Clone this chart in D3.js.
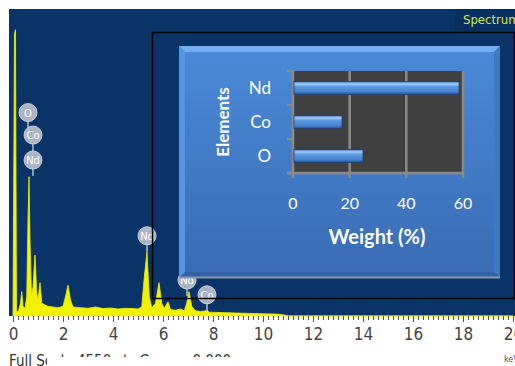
<!DOCTYPE html>
<html>
<head>
<meta charset="utf-8">
<script src="https://cdn.jsdelivr.net/npm/d3@7"></script>
<style>
  body { margin: 0; background: #fff; }
  svg { display: block; }
</style>
</head>
<body>
<div id="chart"></div>
<script>
// EDS spectrum with an inset bar chart of element weights

// inset bar chart data
const elements = ["Nd", "Co", "O"];
const weights = [58.6, 17.3, 24.7];
const weightTicks = [0, 20, 40, 60];

// spectrum axis labels
const keVTicks = [0, 2, 4, 6, 8, 10, 12, 14, 16, 18, 20];

// spectrum (keV, counts)
const specKeV = [0, 0.06, 0.1, 0.14, 0.22, 0.3, 0.35, 0.4, 0.48, 0.55, 0.6, 0.64, 0.68, 0.74, 0.8, 0.88, 0.95, 1.0, 1.08, 1.15,
  1.25, 1.4, 1.6, 1.8, 2.0, 2.1, 2.2, 2.3, 2.4, 2.7, 3.0, 3.3, 3.6, 3.9, 4.2, 4.5, 4.8, 5.0, 5.15, 5.25,
  5.36, 5.45, 5.55, 5.7, 5.84, 5.95, 6.05, 6.2, 6.3, 6.5, 6.7, 6.85, 6.95, 7.04, 7.15, 7.3, 7.5, 7.7, 7.76, 7.85,
  8.2, 8.6, 9.0, 9.5, 10.0, 10.5, 10.8, 11.0, 20];
const specCts = [0, 4400, 4460, 60, 80, 200, 380, 150, 120, 300, 1500, 2170, 1200, 300, 450, 950, 350, 250, 520, 200,
  180, 150, 140, 130, 150, 300, 480, 250, 140, 130, 120, 140, 115, 125, 110, 120, 115, 110, 140, 600,
  1000, 300, 130, 200, 520, 200, 120, 220, 100, 90, 110, 80, 200, 380, 150, 80, 70, 80, 95, 60,
  55, 50, 45, 40, 35, 30, 20, 0, 0];

// peak markers (element, keV, label height in counts)
const peakNames = ["O", "Co", "Nd", "Nd", "Nd", "Co"];
const peakKeV = [0.6, 0.8, 0.8, 5.36, 6.96, 7.76];
const peakLabelCts = [3170, 2820, 2430, 1250, 560, 330];

const W = 515, H = 366;
const narrow = "'Liberation Sans Narrow', 'DejaVu Sans Condensed', sans-serif";
const calibri = "Lato, 'Open Sans', sans-serif";

const svg = d3.select("#chart").append("svg")
  .attr("width", W).attr("height", H);

const defs = svg.append("defs");

// navy spectrum area
svg.append("rect")
  .attr("x", 9).attr("y", 9)
  .attr("width", W - 9).attr("height", 307)
  .attr("fill", "#0a3468");

// darker box behind the spectrum name
svg.append("rect")
  .attr("x", 455).attr("y", 9)
  .attr("width", 60).attr("height", 22)
  .attr("fill", "#092f60");

const x = d3.scaleLinear().domain([0, 20]).range([13, 513]);
const y = d3.scaleLinear().domain([0, 4550]).range([316, 24]);

// spectrum fill
const spec = specKeV.map((k, i) => ({ k: k, c: specCts[i] }));
svg.append("path")
  .datum(spec)
  .attr("fill", "#f2f200")
  .attr("stroke", "#f2f200")
  .attr("stroke-width", 0.8)
  .attr("d", d3.area()
    .x(d => x(d.k))
    .y0(y(0))
    .y1(d => y(d.c)));

// peak labels with stems
const peaks = peakNames.map((n, i) => ({ n: n, k: peakKeV[i], c: peakLabelCts[i] }));
const pk = svg.append("g");
pk.selectAll("line")
  .data(peaks)
  .enter().append("line")
    .attr("x1", d => x(d.k)).attr("x2", d => x(d.k))
    .attr("y1", d => y(d.c)).attr("y2", d => y(d.c) + 16)
    .attr("stroke", "#b4bfcf")
    .attr("stroke-width", 1.5);
pk.selectAll("circle")
  .data(peaks)
  .enter().append("circle")
    .attr("cx", d => x(d.k))
    .attr("cy", d => y(d.c))
    .attr("r", 9)
    .attr("fill", "#aab5c6")
    .attr("stroke", "#c9d2de")
    .attr("stroke-width", 1);
pk.selectAll("text")
  .data(peaks)
  .enter().append("text")
    .attr("x", d => x(d.k))
    .attr("y", d => y(d.c) + 4)
    .attr("text-anchor", "middle")
    .style("font-family", narrow)
    .style("font-size", "11px")
    .attr("fill", "#fff")
    .text(d => d.n);

// spectrum name
svg.append("text")
  .attr("x", 463).attr("y", 24)
  .style("font-family", narrow)
  .style("font-size", "13px")
  .attr("fill", "#cdec52")
  .text("Spectrum 1");

// black inset frame
svg.append("rect")
  .attr("x", 152.5).attr("y", 32.5)
  .attr("width", 362).attr("height", 266)
  .attr("fill", "none")
  .attr("stroke", "#000")
  .attr("stroke-width", 1.5);

// keV axis
const axisG = svg.append("g").attr("transform", "translate(0,316)");
axisG.call(d3.axisBottom(x).tickValues(d3.range(0, 101).map(i => i / 5)).tickSize(4).tickFormat(""));
axisG.select(".domain").remove();
axisG.selectAll("line").attr("stroke", "#555");
axisG.append("g").call(d3.axisBottom(x).tickValues(keVTicks).tickSize(6).tickFormat(d3.format("d")))
  .call(g => g.select(".domain").remove())
  .call(g => g.selectAll("line").attr("stroke", "#555"))
  .selectAll("text")
    .attr("y", 12)
    .attr("fill", "#444")
    .style("font-family", narrow)
    .style("font-size", "17px");

svg.append("text")
  .attr("x", 504).attr("y", 362)
  .style("font-family", narrow)
  .style("font-size", "9px")
  .attr("fill", "#555")
  .text("keV");

svg.append("text")
  .attr("x", 9).attr("y", 366)
  .style("font-family", narrow)
  .style("font-size", "15px")
  .attr("fill", "#333")
  .text("Full Scale 4550 cts Cursor: 0.000");
svg.append("rect")
  .attr("x", 47).attr("y", 357)
  .attr("width", 230).attr("height", 9)
  .attr("fill", "#fff");

// ---- inset panel ----
const panelGrad = defs.append("linearGradient")
  .attr("id", "panel-grad")
  .attr("x1", "0%").attr("x2", "0%").attr("y1", "0%").attr("y2", "100%");
panelGrad.selectAll("stop")
  .data([{ o: "0%", c: "#4b8ad9" }, { o: "100%", c: "#396bb3" }])
  .enter().append("stop")
    .attr("offset", d => d.o)
    .attr("stop-color", d => d.c);

const pL = 179, pT = 46, pR = 500, pB = 278, bv = 6;
svg.append("rect")
  .attr("x", pL).attr("y", pT)
  .attr("width", pR - pL).attr("height", pB - pT)
  .attr("fill", "url(#panel-grad)");
// bevel edges
svg.append("polygon")
  .attr("points", [[pL, pT], [pR, pT], [pR - bv, pT + bv], [pL + bv, pT + bv]].join(" "))
  .attr("fill", "#72aef0");
svg.append("polygon")
  .attr("points", [[pR, pT], [pR, pB], [pR - bv, pB - bv], [pR - bv, pT + bv]].join(" "))
  .attr("fill", "#3f78c6");
svg.append("polygon")
  .attr("points", [[pL, pB], [pR, pB], [pR - bv, pB - bv], [pL + bv, pB - bv]].join(" "))
  .attr("fill", "#3462a6");
svg.append("polygon")
  .attr("points", [[pL, pT], [pL + bv, pT + bv], [pL + bv, pB - bv], [pL, pB]].join(" "))
  .attr("fill", "#5595e0");
svg.append("line")
  .attr("x1", pL).attr("x2", pR)
  .attr("y1", pB - 0.5).attr("y2", pB - 0.5)
  .attr("stroke", "#8797ad")
  .attr("stroke-width", 2);

// bar chart scales
const bx = d3.scaleLinear().domain([0, 60]).range([293, 463]);
const by = d3.scaleBand().domain(elements).range([71, 173])
  .paddingInner(0.62).paddingOuter(0.31);

const chart = svg.append("g");
chart.append("rect")
  .attr("x", bx(0)).attr("y", 71)
  .attr("width", bx(60) - bx(0)).attr("height", 102)
  .attr("fill", "#404040");

// vertical gridlines that poke below the plot as ticks
chart.selectAll(".grid")
  .data(weightTicks)
  .enter().append("line")
    .attr("x1", d => bx(d)).attr("x2", d => bx(d))
    .attr("y1", 71).attr("y2", 178)
    .attr("stroke", "#8a8a8a")
    .attr("stroke-width", 2.5);
// category ticks
chart.selectAll(".ytick")
  .data([71, 105, 139, 173])
  .enter().append("line")
    .attr("x1", 287).attr("x2", 293)
    .attr("y1", d => d).attr("y2", d => d)
    .attr("stroke", "#8a8a8a")
    .attr("stroke-width", 2.5);
chart.append("line")
  .attr("x1", 287).attr("x2", bx(60))
  .attr("y1", 173).attr("y2", 173)
  .attr("stroke", "#8a8a8a")
  .attr("stroke-width", 2.5);

// bars
const barGrad = defs.append("linearGradient")
  .attr("id", "bar-grad")
  .attr("x1", "0%").attr("x2", "0%").attr("y1", "0%").attr("y2", "100%");
barGrad.selectAll("stop")
  .data([
    { o: "0%", c: "#3b72c0" },
    { o: "18%", c: "#a6cff6" },
    { o: "38%", c: "#5c9ae2" },
    { o: "78%", c: "#4784d2" },
    { o: "100%", c: "#234f8c" }
  ])
  .enter().append("stop")
    .attr("offset", d => d.o)
    .attr("stop-color", d => d.c);

chart.selectAll(".bar")
  .data(elements.map((e, i) => ({ e: e, v: weights[i] })))
  .enter().append("rect")
    .attr("x", bx(0) + 1)
    .attr("y", d => by(d.e))
    .attr("width", d => bx(d.v) - bx(0) - 1)
    .attr("height", by.bandwidth())
    .attr("fill", "url(#bar-grad)")
    .attr("stroke", "#1f3f70")
    .attr("stroke-width", 0.8);

// category labels
chart.selectAll(".ylab")
  .data(elements)
  .enter().append("text")
    .attr("x", 271)
    .attr("y", d => by(d) + by.bandwidth() / 2 + 6)
    .attr("text-anchor", "end")
    .attr("fill", "#fff")
    .style("font-family", calibri)
    .style("font-size", "17px")
    .text(d => d);

// weight tick labels
chart.selectAll(".xlab")
  .data(weightTicks)
  .enter().append("text")
    .attr("x", d => bx(d))
    .attr("y", 209)
    .attr("text-anchor", "middle")
    .attr("fill", "#fff")
    .style("font-family", calibri)
    .style("font-size", "16px")
    .text(d => d);

chart.append("text")
  .attr("x", 377).attr("y", 244)
  .attr("text-anchor", "middle")
  .attr("fill", "#fff")
  .style("font-family", calibri)
  .style("font-weight", "bold")
  .style("font-size", "20px")
  .text("Weight (%)");

chart.append("text")
  .attr("transform", "translate(229,122) rotate(-90)")
  .attr("text-anchor", "middle")
  .attr("fill", "#fff")
  .style("font-family", calibri)
  .style("font-weight", "bold")
  .style("font-size", "17px")
  .text("Elements");
</script>
</body>
</html>
